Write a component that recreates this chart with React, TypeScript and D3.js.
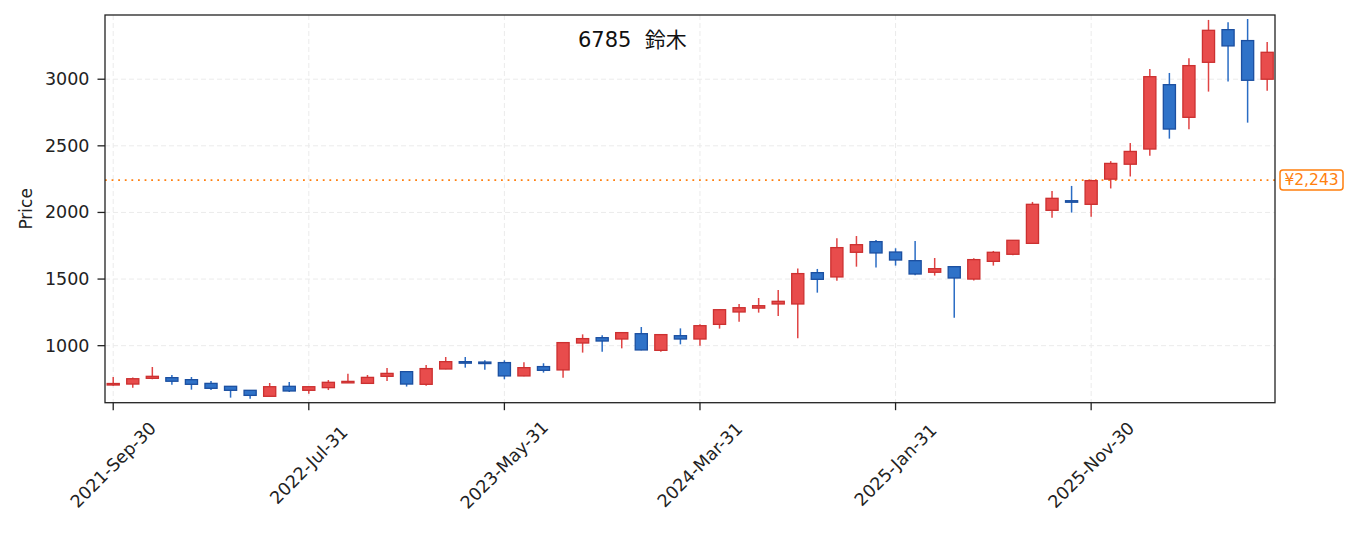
import { useMemo } from 'react';
import * as d3 from 'd3';

// monthly bars, month-end dates
const DATES = [
  '2021-09-30', '2021-10-31', '2021-11-30', '2021-12-31',
  '2022-01-31', '2022-02-28', '2022-03-31', '2022-04-30', '2022-05-31', '2022-06-30',
  '2022-07-31', '2022-08-31', '2022-09-30', '2022-10-31', '2022-11-30', '2022-12-31',
  '2023-01-31', '2023-02-28', '2023-03-31', '2023-04-30', '2023-05-31', '2023-06-30',
  '2023-07-31', '2023-08-31', '2023-09-30', '2023-10-31', '2023-11-30', '2023-12-31',
  '2024-01-31', '2024-02-29', '2024-03-31', '2024-04-30', '2024-05-31', '2024-06-30',
  '2024-07-31', '2024-08-31', '2024-09-30', '2024-10-31', '2024-11-30', '2024-12-31',
  '2025-01-31', '2025-02-28', '2025-03-31', '2025-04-30', '2025-05-31', '2025-06-30',
  '2025-07-31', '2025-08-31', '2025-09-30', '2025-10-31', '2025-11-30', '2025-12-31',
  '2026-01-31', '2026-02-28', '2026-03-31', '2026-04-30', '2026-05-31', '2026-06-30',
  '2026-07-31', '2026-08-31',
];

const OPEN = [
  705, 712, 755, 760, 745, 717, 695, 665, 620, 695,
  665, 685, 722, 717, 770, 805, 710, 825, 880, 877,
  873, 773, 843, 818, 1020, 1060, 1050, 1090, 965, 1075,
  1050, 1160, 1253, 1282, 1313, 1313, 1548, 1516, 1701, 1781,
  1703, 1638, 1551, 1593, 1500, 1633, 1686, 1768, 2016, 2088,
  2061, 2250, 2362, 2476, 2959, 2714, 3127, 3372, 3290, 3000,
];
const HIGH = [
  765, 762, 840, 780, 765, 735, 697, 667, 720, 727,
  693, 742, 790, 780, 832, 807, 855, 915, 915, 890,
  890, 875, 868, 1025, 1085, 1078, 1100, 1140, 1085, 1130,
  1160, 1272, 1313, 1358, 1418, 1580, 1576, 1806, 1823, 1793,
  1731, 1786, 1658, 1595, 1656, 1711, 1793, 2079, 2161, 2199,
  2245, 2385, 2521, 3077, 3047, 3157, 3445, 3427, 3452, 3280,
];
const LOW = [
  700, 685, 748, 707, 670, 667, 610, 602, 620, 652,
  640, 667, 722, 717, 735, 693, 700, 823, 835, 820,
  748, 770, 798, 760, 948, 955, 980, 965, 955, 1010,
  1000, 1128, 1180, 1248, 1223, 1055, 1398, 1488, 1593, 1586,
  1601, 1528, 1526, 1210, 1490, 1601, 1678, 1766, 1961, 1999,
  1968, 2180, 2270, 2426, 2554, 2624, 2907, 2982, 2674, 2914,
];
const CLOSE = [
  716, 752, 770, 733, 710, 680, 665, 627, 692, 660,
  692, 725, 732, 762, 792, 712, 828, 880, 872, 870,
  773, 835, 815, 1023, 1053, 1035, 1098, 968, 1083, 1050,
  1150, 1270, 1285, 1300, 1333, 1541, 1498, 1736, 1758, 1696,
  1643, 1538, 1578, 1508, 1646, 1701, 1791, 2061, 2106, 2082,
  2239, 2368, 2458, 3019, 2626, 3102, 3367, 3250, 2992, 3202,
];

const X_TICK_INDEX = [0, 10, 20, 30, 40, 50];
const Y_TICKS = [1000, 1500, 2000, 2500, 3000];
const REF_PRICE = 2243;
const TITLE = '6785  鈴木';

const W = 1355;
const H = 533;
const M = { left: 105, right: 1275, top: 15, bottom: 402.7 };
const FONT = '"DejaVu Sans", "Noto Sans CJK JP", sans-serif';

const UP = { fill: '#e84c4c', edge: '#cc3030', wick: '#e04444' };
const DOWN = { fill: '#2f72c8', edge: '#1b4fa0', wick: '#2a6cc4' };

const fmtDate = d3.timeFormat('%Y-%b-%d');
const parseDate = d3.timeParse('%Y-%m-%d');

export default function App() {
  const x = useMemo(() => d3.scaleLinear().domain([-0.42, DATES.length - 0.6]).range([M.left, M.right]), []);
  const y = useMemo(() => d3.scaleLinear().domain([572, 3482]).range([M.bottom, M.top]), []);

  const step = x(1) - x(0);
  const bodyW = step * 0.62;

  const candles = DATES.map((d, i) => {
    const o = OPEN[i];
    const c = CLOSE[i];
    const up = c >= o;
    const col = up ? UP : DOWN;
    const top = y(Math.max(o, c));
    const bot = y(Math.min(o, c));
    return { d, i, col, top, bot, hi: y(HIGH[i]), lo: y(LOW[i]), cx: x(i) };
  });

  const refY = y(REF_PRICE);

  return (
    <svg
      width={W}
      height={H}
      viewBox={`0 0 ${W} ${H}`}
      style={{ position: 'absolute', left: 0, top: 0, background: '#fff' }}
      fontFamily={FONT}
    >
      {/* grid */}
      <g stroke="#ebebeb" strokeWidth={1} strokeDasharray="5,3">
        {Y_TICKS.map((t) => (
          <line key={t} x1={M.left} x2={M.right} y1={y(t)} y2={y(t)} />
        ))}
        {X_TICK_INDEX.map((i) => (
          <line key={i} x1={x(i)} x2={x(i)} y1={M.top} y2={M.bottom} />
        ))}
      </g>

      {/* reference line */}
      <line
        x1={M.left}
        x2={M.right}
        y1={refY}
        y2={refY}
        stroke="#ff7f0e"
        strokeWidth={1.8}
        strokeDasharray="1.8,4.8"
      />

      {/* candles */}
      <g>
        {candles.map((k) => (
          <g key={k.d}>
            <line x1={k.cx} x2={k.cx} y1={k.hi} y2={k.lo} stroke={k.col.wick} strokeWidth={1.5} />
            <rect
              x={k.cx - bodyW / 2}
              y={k.top}
              width={bodyW}
              height={Math.max(k.bot - k.top, 1.5)}
              fill={k.col.fill}
              stroke={k.col.edge}
              strokeWidth={1.3}
            />
          </g>
        ))}
      </g>

      {/* frame */}
      <rect
        x={M.left}
        y={M.top}
        width={M.right - M.left}
        height={M.bottom - M.top}
        fill="none"
        stroke="#222"
        strokeWidth={1.3}
      />

      {/* y axis */}
      <g fontSize={17.5} fill="#222">
        {Y_TICKS.map((t) => (
          <g key={t}>
            <line x1={M.left - 7.5} x2={M.left} y1={y(t)} y2={y(t)} stroke="#222" strokeWidth={1.3} />
            <text x={M.left - 15.5} y={y(t)} textAnchor="end" dominantBaseline="central">
              {t}
            </text>
          </g>
        ))}
      </g>
      <text
        transform={`translate(25.5, ${(M.top + M.bottom) / 2}) rotate(-90)`}
        textAnchor="middle"
        dominantBaseline="central"
        fontSize={17}
        fill="#222"
      >
        Price
      </text>

      {/* x axis */}
      <g fontSize={17.5} fill="#222">
        {X_TICK_INDEX.map((i) => {
          const tx = x(i);
          const label = fmtDate(parseDate(DATES[i]) as Date);
          return (
            <g key={i}>
              <line x1={tx} x2={tx} y1={M.bottom} y2={M.bottom + 7.5} stroke="#222" strokeWidth={1.3} />
              <text
                transform={`translate(${tx}, 465) rotate(-45)`}
                textAnchor="middle"
                dominantBaseline="central"
              >
                {label}
              </text>
            </g>
          );
        })}
      </g>

      {/* title */}
      <text x={578} y={47} fontSize={21} fill="#111" style={{ whiteSpace: 'pre' }}>
        {TITLE}
      </text>

      {/* price tag */}
      <g>
        <rect x={1280} y={refY - 10} width={63} height={20} rx={3} fill="#fff" stroke="#ff7f0e" strokeWidth={1.5} />
        <text x={1311.5} y={refY} textAnchor="middle" dominantBaseline="central" fontSize={15.5} fill="#ff7f0e">
          ¥{d3.format(',')(REF_PRICE)}
        </text>
      </g>
    </svg>
  );
}
